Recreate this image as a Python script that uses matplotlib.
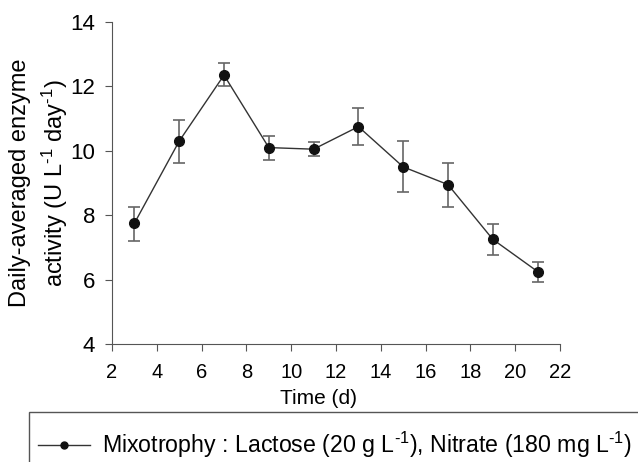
import numpy as np
import matplotlib
matplotlib.use("Agg")
import matplotlib.pyplot as plt
from matplotlib.patches import Rectangle
from matplotlib.lines import Line2D

plt.rcParams['font.family'] = ['Liberation Sans', 'DejaVu Sans']
plt.rcParams['mathtext.fontset'] = 'custom'
plt.rcParams['mathtext.rm'] = 'Liberation Sans'
plt.rcParams['mathtext.it'] = 'Liberation Sans'

# dias de cultivo e atividade media diaria
dias = [3, 5, 7, 9, 11, 13, 15, 17, 19, 21]
atividade = [7.75, 10.3, 12.35, 10.1, 10.05, 10.75, 9.5, 8.95, 7.25, 6.25]
erro_inf = [0.55, 0.68, 0.34, 0.39, 0.21, 0.57, 0.79, 0.69, 0.49, 0.31]
erro_sup = [0.50, 0.66, 0.37, 0.36, 0.23, 0.58, 0.79, 0.68, 0.49, 0.30]

xticks = [2, 4, 6, 8, 10, 12, 14, 16, 18, 20, 22]
yticks = [4, 6, 8, 10, 12, 14]
rotulo = r'Mixotrophy : Lactose (20 g L$^{\text{-1}}$), Nitrate (180 mg L$^{\text{-1}}$)'

fig = plt.figure(figsize=(6.38, 4.62), dpi=100)
ax = fig.add_axes([112/638, 1-344/462, (560-112)/638, (344-22)/462])

ax.errorbar(dias, atividade, yerr=[erro_inf, erro_sup], fmt='o-', color='#333333',
            mfc='#111111', mec='#111111', ms=7, lw=1, ecolor='#666666',
            elinewidth=1.2, capsize=4, capthick=1.2)

ax.set_xlim(2, 22)
ax.set_ylim(4, 14)
ax.set_xticks(xticks)
ax.set_yticks(yticks)
ax.spines['top'].set_visible(False)
ax.spines['right'].set_visible(False)
for s in ['left', 'bottom']:
    ax.spines[s].set_color('#555555')
ax.tick_params(direction='out', length=5, color='#555555')
ax.tick_params(axis='x', labelsize=14.5, pad=9)
ax.tick_params(axis='y', labelsize=16, pad=7)
ax.set_xlabel('Time (d)', fontsize=15)
ax.xaxis.set_label_coords((318-112)/448, -0.14)
ax.set_ylabel('Daily-averaged enzyme\n' + r'activity (U L$^{\text{-1}}$ day$^{\text{-1}}$)',
              fontsize=17, linespacing=1.4)
ax.yaxis.set_label_coords((70-112)/448, 0.5)

# caixa da legenda saindo da figura
fig.patches.append(Rectangle((29/638, -0.1), 1.0, 1-412/462+0.1, transform=fig.transFigure,
                             fill=False, edgecolor='#555555', lw=1))
alca = Line2D([], [], color='#333333', lw=1, marker='o', ms=5, mfc='#111111', mec='#111111')
fig.legend([alca], [rotulo], loc='center left', bbox_to_anchor=(38/638, 1-445/462), frameon=False,
           fontsize=16.7, handlelength=2.25, handletextpad=0.5, borderpad=0, borderaxespad=0)

fig.savefig('out.png', dpi=100)
